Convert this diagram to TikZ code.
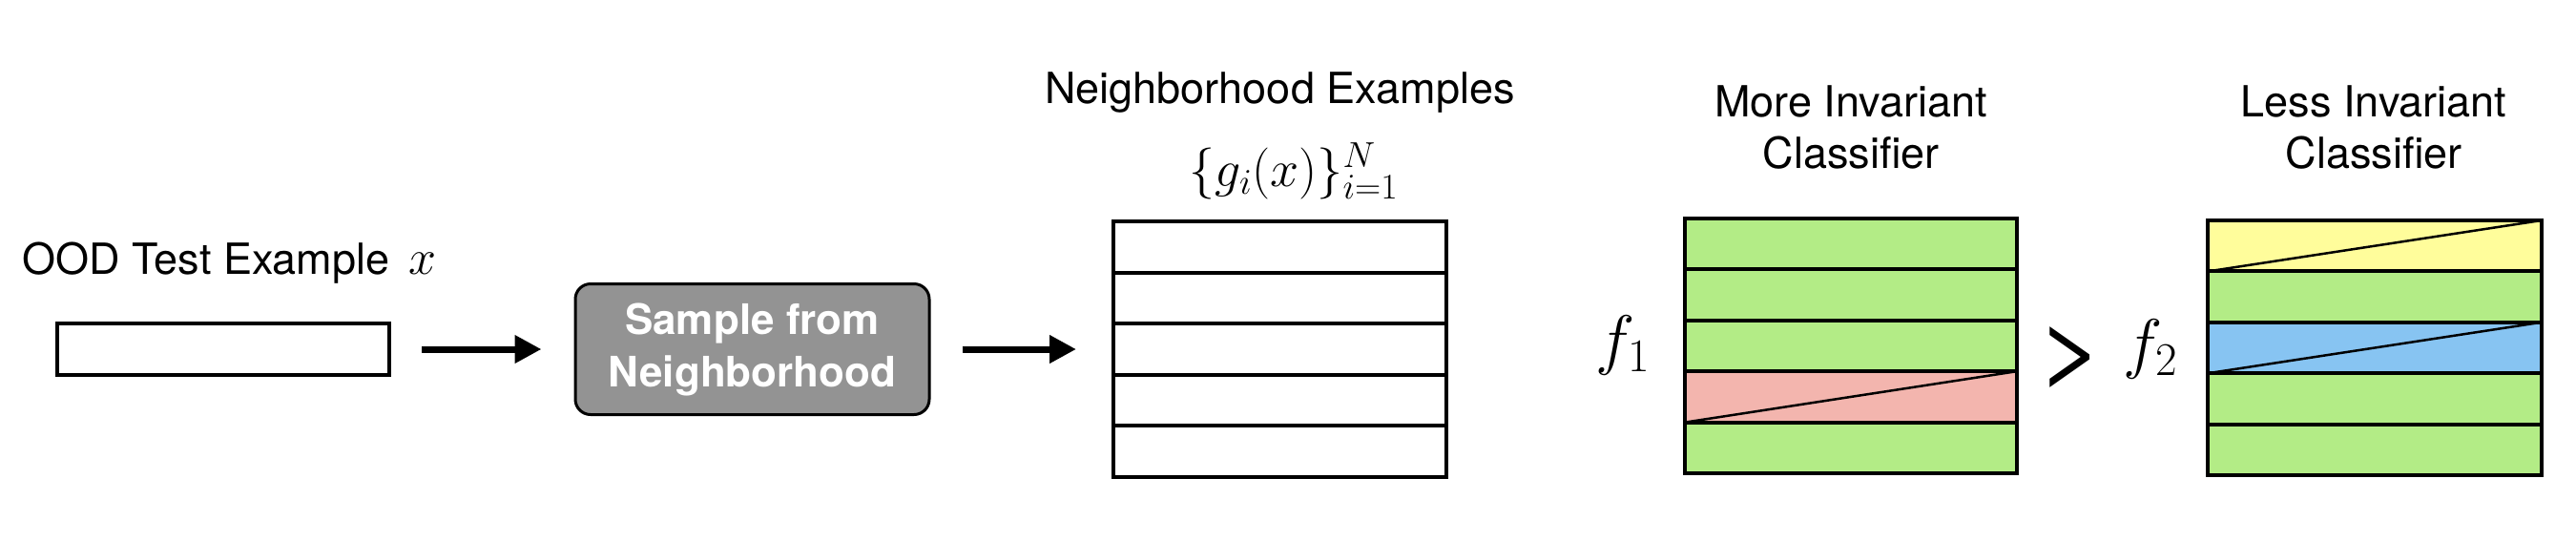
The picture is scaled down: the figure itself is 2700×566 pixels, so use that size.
\documentclass[tikz,border=0pt]{standalone}
\usepackage{fix-cm}
\usepackage[no-math]{fontspec}
\setmainfont{TeX Gyre Heros}
\usetikzlibrary{arrows.meta}
\definecolor{rowgreen}{RGB}{179,236,134}
\definecolor{rowpink}{RGB}{243,181,174}
\definecolor{rowyellow}{RGB}{255,253,155}
\definecolor{rowblue}{RGB}{135,196,242}
\definecolor{boxgray}{RGB}{147,147,147}
\def\capsize{\fontsize{45}{54}\selectfont}
\def\funcsize{\fontsize{70}{70}\selectfont}
\tikzset{
	row/.style={draw, line width=4pt, minimum width=349pt, minimum height=53.5pt, inner sep=0pt, outer sep=0pt},
	caption/.style={font=\capsize, align=center},
	flow/.style={line width=7pt, -{Triangle[length=28pt,width=28pt]}}
}

\begin{document}
\begin{tikzpicture}[x=1pt,y=-1pt]
				\useasboundingbox (0,0) rectangle (2700,566);
				
				%input and sampling
				\node[caption, anchor=base west] (oodtext) at (20,287) {OOD Test Example \,{\fontsize{52}{54}\selectfont$x$}};
				\node[row, minimum width=348pt, minimum height=54pt] (ood) at (234,366) {};
				\node[draw, line width=3pt, fill=boxgray, rounded corners=16pt, minimum width=371pt, minimum height=137pt, text=white, font=\bfseries\fontsize{44}{55}\selectfont, align=center] (sample) at (788.5,366) {Sample from\\Neighborhood};
				
				%neighborhood examples
				\node[caption, anchor=base] (nbtext) at (1341.5,108) {Neighborhood Examples};
				\node[font=\fontsize{54}{54}\selectfont, anchor=base] (nbmath) at (1356,195) {$\{g_i(x)\}_{i=1}^N$};
				\foreach \i in {1,...,5}
					\node[row] (nb\i) at (1341.5,{232+53.6*\i-26.8}) {};
				
				\draw[flow, shorten <=34pt, shorten >=34pt] (ood) -- (sample);
				\draw[flow, shorten <=33pt, shorten >=39pt] (sample) -- (nb3);
				
				%the two classifiers
				\node[caption] (morecap) at (1940,133) {More Invariant\\Classifier};
				\node[caption] (lesscap) at (2488,133) {Less Invariant\\Classifier};
				\foreach \i/\c in {1/rowgreen,2/rowgreen,3/rowgreen,4/rowpink,5/rowgreen}
					\node[row, minimum width=348pt, fill=\c] (fa\i) at (1940,{229+53.4*\i-26.7}) {};
				\foreach \i/\c in {1/rowyellow,2/rowgreen,3/rowblue,4/rowgreen,5/rowgreen}
					\node[row, minimum width=350pt, fill=\c] (fb\i) at (2489,{231+53.4*\i-26.7}) {};
				\draw[line width=2.5pt] (fa4.south west) -- (fa4.north east);
				\draw[line width=2.5pt] (fb1.south west) -- (fb1.north east);
				\draw[line width=2.5pt] (fb3.south west) -- (fb3.north east);
				
				\node[font=\funcsize, anchor=base] (fone) at (1701,379) {$f_1$};
				\node[font=\funcsize, anchor=base] (ftwo) at (2254,383) {$f_2$};
				\node[font=\fontsize{100}{100}\selectfont, anchor=base] (gt) at (2171,399) {\scalebox{1.25}[1]{>}};
			\end{tikzpicture}
\end{document}
